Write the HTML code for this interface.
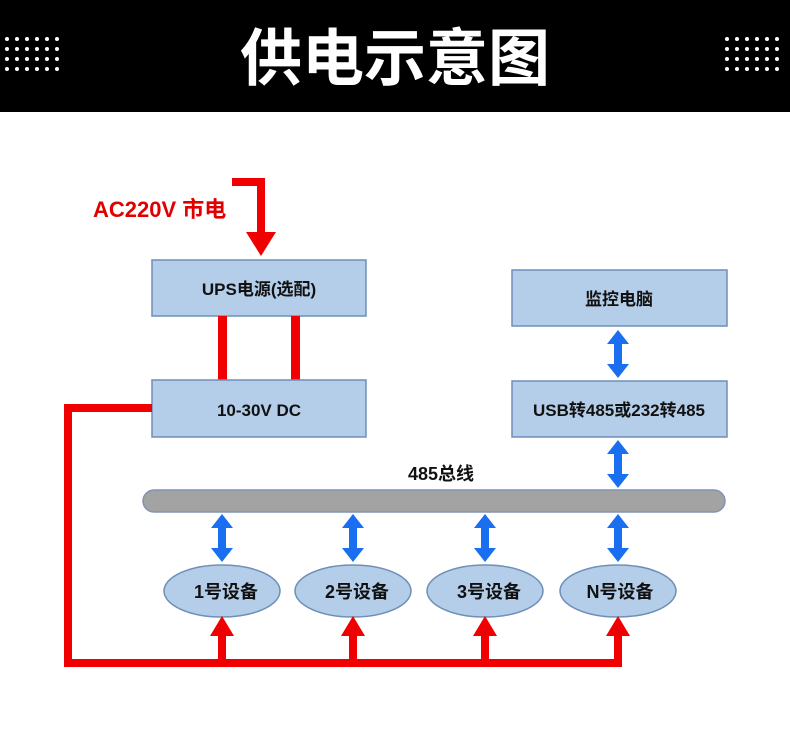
<!DOCTYPE html>
<html><head><meta charset="utf-8"><style>
html,body{margin:0;padding:0;background:#fff;}
svg{display:block;}
text{font-family:"Liberation Sans","Noto Sans CJK SC",sans-serif;font-weight:bold;}
</style></head><body>
<svg width="790" height="735" viewBox="0 0 790 735" xmlns="http://www.w3.org/2000/svg">
<defs>
<pattern id="dots" x="2" y="34" width="10" height="10" patternUnits="userSpaceOnUse">
<circle cx="5" cy="5" r="2" fill="#fff"/></pattern>
<g id="barrow"><polygon points="0,-24 -11,-10 -4,-10 -4,10 -11,10 0,24 11,10 4,10 4,-10 11,-10" fill="#1a6ef0"/></g>
<g id="rarrow"><polygon points="0,0 -12,20 -4,20 -4,50 4,50 4,20 12,20" fill="#f00000"/></g>
</defs>
<rect x="0" y="0" width="790" height="112" fill="#000"/>
<rect x="2" y="34" width="60" height="40" fill="url(#dots)"/>
<rect x="722" y="34" width="60" height="40" fill="url(#dots)"/>
<text x="395" y="80" font-size="62" fill="#fff" text-anchor="middle">供电示意图</text>

<text x="93" y="217" font-size="22" fill="#e00000">AC220V 市电</text>
<polyline points="232,182 261,182 261,235" fill="none" stroke="#f00000" stroke-width="8"/>
<polygon points="246,232 276,232 261,256" fill="#f00000"/>

<rect x="152" y="260" width="214" height="56" fill="#b4cde9" stroke="#6f8fb8" stroke-width="1.5"/>
<text x="259" y="295" font-size="17" fill="#111" text-anchor="middle">UPS电源(选配)</text>
<rect x="218" y="316" width="9" height="64" fill="#f00000"/>
<rect x="291" y="316" width="9" height="64" fill="#f00000"/>
<rect x="152" y="380" width="214" height="57" fill="#b4cde9" stroke="#6f8fb8" stroke-width="1.5"/>
<text x="259" y="416" font-size="17" fill="#111" text-anchor="middle">10-30V DC</text>

<rect x="512" y="270" width="215" height="56" fill="#b4cde9" stroke="#6f8fb8" stroke-width="1.5"/>
<text x="619" y="305" font-size="17" fill="#111" text-anchor="middle">监控电脑</text>
<rect x="512" y="381" width="215" height="56" fill="#b4cde9" stroke="#6f8fb8" stroke-width="1.5"/>
<text x="619" y="416" font-size="17" fill="#111" text-anchor="middle">USB转485或232转485</text>
<use href="#barrow" x="618" y="354"/>
<use href="#barrow" x="618" y="464"/>

<text x="441" y="480" font-size="18" fill="#111" text-anchor="middle">485总线</text>
<rect x="143" y="490" width="582" height="22" rx="11" fill="#a3a3a3" stroke="#8094b4" stroke-width="1.5"/>

<polyline points="152,408 68,408 68,663 622,663" fill="none" stroke="#f00000" stroke-width="8"/>

<g>
<use href="#barrow" x="222" y="538"/>
<use href="#barrow" x="353" y="538"/>
<use href="#barrow" x="485" y="538"/>
<use href="#barrow" x="618" y="538"/>
<ellipse cx="222" cy="591" rx="58" ry="26" fill="#b4cde9" stroke="#6f8fb8" stroke-width="1.5"/>
<ellipse cx="353" cy="591" rx="58" ry="26" fill="#b4cde9" stroke="#6f8fb8" stroke-width="1.5"/>
<ellipse cx="485" cy="591" rx="58" ry="26" fill="#b4cde9" stroke="#6f8fb8" stroke-width="1.5"/>
<ellipse cx="618" cy="591" rx="58" ry="26" fill="#b4cde9" stroke="#6f8fb8" stroke-width="1.5"/>
<text x="226" y="598" font-size="18" fill="#111" text-anchor="middle">1号设备</text>
<text x="357" y="598" font-size="18" fill="#111" text-anchor="middle">2号设备</text>
<text x="489" y="598" font-size="18" fill="#111" text-anchor="middle">3号设备</text>
<text x="620" y="598" font-size="18" fill="#111" text-anchor="middle">N号设备</text>
<use href="#rarrow" x="222" y="616"/>
<use href="#rarrow" x="353" y="616"/>
<use href="#rarrow" x="485" y="616"/>
<use href="#rarrow" x="618" y="616"/>
</g>
</svg>
</body></html>
